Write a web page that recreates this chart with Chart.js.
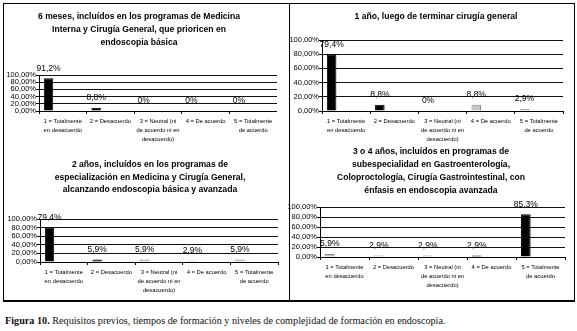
<!DOCTYPE html>
<html>
<head>
<meta charset="utf-8">
<script src="https://cdn.jsdelivr.net/npm/chart.js@4.4.1/dist/chart.umd.min.js"></script>
<style>
  html, body { margin: 0; padding: 0; background: #fff; }
  body { width: 577px; height: 331px; position: relative; overflow: hidden; }
  canvas { position: absolute; }
  #frame { position: absolute; left: 3px; top: 3px; width: 570px; height: 296px;
           border: 1px solid #000; border-bottom-width: 2px; }
  #divider { position: absolute; left: 289px; top: 3px; width: 1px; height: 298px; background: #000; }
  #caption { position: absolute; left: 5px; top: 315px; font: 10.2px 'Liberation Serif', 'Times New Roman', serif; color: #111; white-space: nowrap; }
</style>
</head>
<body>
<div id="frame"></div>
<div id="divider"></div>
<canvas id="c1"></canvas>
<canvas id="c2"></canvas>
<canvas id="c3"></canvas>
<canvas id="c4"></canvas>
<div id="caption"><b>Figura 10.</b> Requisitos previos, tiempos de formación y niveles de complejidad de formación en endoscopia.</div>

<script>
// categories (shared by the four charts)
const categories = [
  ['1 = Totalmente', 'en desacuerdo'],
  ['2 = Desacuerdo'],
  ['3 = Neutral (ni', 'de acuerdo ni en', 'desacuerdo)'],
  ['4 = De acuerdo'],
  ['5 = Totalmente', 'de acuerdo']
]
const yTicks = [0, 20, 40, 60, 80, 100]

const title6m = ['6 meses, incluídos en los programas de Medicina', 'Interna y Cirugía General, que prioricen en', 'endoscopia básica']
const values6m = [91.2, 8.8, 0, 0, 0]

const title1y = ['1 año, luego de terminar cirugía general']
const values1y = [79.4, 8.8, 0, 8.8, 2.9]

const title2y = ['2 años, incluídos en los programas de', 'especialización en Medicina y Cirugía General,', 'alcanzando endoscopia básica y avanzada']
const values2y = [79.4, 5.9, 5.9, 2.9, 5.9]

const title34y = ['3 o 4 años, incluídos en programas de', 'subespecialidad en Gastroenterología,', 'Coloproctología, Cirugía Gastrointestinal, con', 'énfasis en endoscopia avanzada']
const values34y = [5.9, 2.9, 2.9, 2.9, 85.3]

const BLACK = '#000000'
const GREY = '#c4c4c4'

Chart.defaults.color = '#000'
Chart.defaults.font.family = "'Liberation Sans', Arial, sans-serif"

function pct (v) {
  return v === 0 ? '0%' : v.toFixed(1).replace('.', ',') + '%'
}

const valueLabels = {
  id: 'valueLabels',
  afterDatasetsDraw (chart) {
    const ctx = chart.ctx
    const meta = chart.getDatasetMeta(0)
    const data = chart.data.datasets[0].data
    ctx.save()
    ctx.font = "8.5px 'Liberation Sans', Arial, sans-serif"
    ctx.fillStyle = '#000'
    ctx.textAlign = 'center'
    ctx.textBaseline = 'middle'
    meta.data.forEach((bar, i) => {
      ctx.fillText(pct(data[i]), bar.x, bar.y - 10)
    })
    ctx.restore()
  }
}

// geo: page coords of the plot area and of the title
function build (id, title, values, colors, geo) {
  let yW = 36
  let rW = 2 * geo.titleX - (geo.plot[0] - yW) - geo.plot[2]
  if (rW < 0) { yW -= rW; rW = 0 }
  const left = geo.plot[0] - yW
  const width = geo.plot[2] + rW - left
  const pt = geo.plot[1] - geo.top
  const pb = geo.plot[3] - geo.top
  const tpTop = geo.titleY - geo.top - geo.lineH / 2
  const tpBottom = pt - title.length * geo.lineH - tpTop
  const xH = 34
  const padB = geo.height - pb - xH

  const canvas = document.getElementById(id)
  canvas.width = width
  canvas.height = geo.height
  canvas.style.left = left + 'px'
  canvas.style.top = geo.top + 'px'

  return new Chart(canvas, {
    type: 'bar',
    data: {
      labels: categories,
      datasets: [
        {
          data: values,
          backgroundColor: colors,
          borderColor: colors.map(c => c === GREY ? '#8a8a8a' : '#000'),
          borderWidth: 1
        },
        { data: [] },
        { data: [] }
      ]
    },
    options: {
      responsive: false,
      animation: false,
      devicePixelRatio: 1,
      categoryPercentage: 0.9,
      barPercentage: 0.66,
      layout: { padding: { left: 0, right: 0, top: 0, bottom: padB } },
      scales: {
        x: {
          grid: { display: true, drawOnChartArea: false, offset: true, tickLength: 3, color: '#000' },
          border: { display: true, color: '#000', width: 1 },
          ticks: {
            font: { size: 5.8, lineHeight: '9px' },
            padding: 2.5,
            maxRotation: 0,
            autoSkip: false
          },
          afterFit: s => { s.height = xH }
        },
        y: {
          min: 0,
          max: 100,
          grid: { color: '#111', lineWidth: 1, tickLength: 3 },
          border: { display: true, color: '#000', width: 1 },
          afterBuildTicks: s => { s.ticks = yTicks.map(v => ({ value: v })) },
          ticks: {
            font: { size: 7.5 },
            padding: 0,
            autoSkip: false,
            callback: v => v.toFixed(2).replace('.', ',') + '%'
          },
          afterFit: s => { s.width = yW }
        },
        // empty right-hand box, only there to centre the title like the original
        spacer: {
          type: 'linear',
          position: 'right',
          display: rW > 0,
          grid: { display: false, drawTicks: false },
          border: { display: false },
          ticks: { display: false },
          afterFit: s => { s.width = rW }
        }
      },
      plugins: {
        legend: { display: false },
        tooltip: { enabled: false },
        title: {
          display: true,
          text: title,
          color: '#000',
          font: { size: 8.6, weight: 'bold', lineHeight: geo.lineH + 'px' },
          padding: { top: tpTop, bottom: tpBottom }
        }
      }
    },
    plugins: [valueLabels]
  })
}

build('c1', title6m, values6m, [BLACK, BLACK, BLACK, BLACK, GREY],
  { top: 0, height: 151, plot: [39, 75, 277, 111], titleX: 139, titleY: 17, lineH: 13 })
build('c2', title1y, values1y, [BLACK, BLACK, BLACK, GREY, GREY],
  { top: 0, height: 151, plot: [322, 40, 563, 111], titleX: 436, titleY: 17, lineH: 13 })
build('c3', title2y, values2y, [BLACK, BLACK, GREY, GREY, GREY],
  { top: 150, height: 150, plot: [40, 219, 278, 262], titleX: 150, titleY: 165, lineH: 12.5 })
build('c4', title34y, values34y, [GREY, GREY, GREY, BLACK, BLACK],
  { top: 140, height: 160, plot: [320, 207, 565, 257], titleX: 431, titleY: 152, lineH: 13 })
</script>
</body>
</html>
